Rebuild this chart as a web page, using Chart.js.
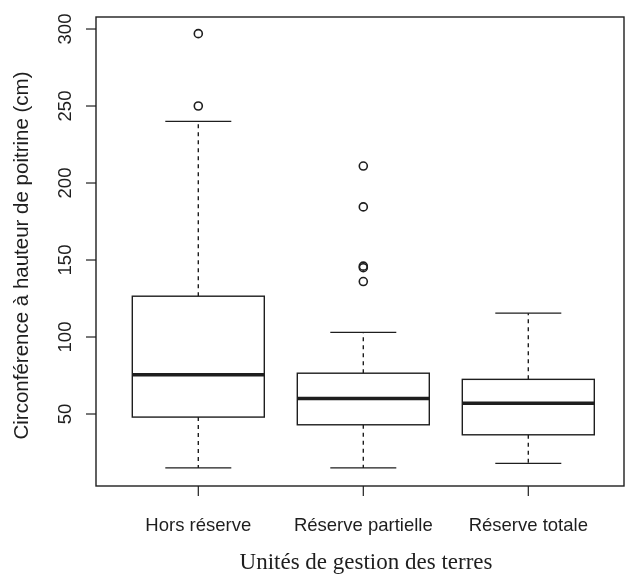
<!DOCTYPE html>
<html>
<head>
<meta charset="utf-8">
<script src="https://cdn.jsdelivr.net/npm/chart.js@4.4.1/dist/chart.umd.min.js"></script>
<style>
  html, body { margin: 0; padding: 0; background: #fff; }
</style>
</head>
<body>
<canvas id="boxChart" width="625" height="581"></canvas>
<script>
// --- data ---
const categories = ["Hors réserve", "Réserve partielle", "Réserve totale"];
const whiskerLow = [15, 15, 18];
const q1 = [48, 43, 36.5];
const median = [75.5, 60, 57];
const q3 = [126.5, 76.5, 72.5];
const whiskerHigh = [240, 103, 115.5];
const outliers = [[250, 297], [136, 145, 146, 184.5, 211], []];
const yTicks = [50, 100, 150, 200, 250, 300];

const yTitle = "Circonférence à hauteur de poitrine (cm)";
const xTitle = "Unités de gestion des terres";

const ink = "#1e1e1e";
const sans = "'Liberation Sans', Arial, sans-serif";
const serif = "'Liberation Serif', 'Times New Roman', serif";

// outlier points as a scatter dataset
const outlierPoints = [];
outliers.forEach((vals, i) => vals.forEach(v => outlierPoints.push({ x: i + 1, y: v })));

// R-style boxes, whiskers, axes and labels, drawn through the chart scales
const boxPlugin = {
    id: "rBoxplot",
    beforeDatasetsDraw(chart) {
        const { ctx, chartArea: a, scales: { x, y } } = chart;
        ctx.save();
        ctx.strokeStyle = ink;

        categories.forEach((name, i) => {
            const cx = x.getPixelForValue(i + 1);
            const bl = x.getPixelForValue(i + 1 - 0.4), br = x.getPixelForValue(i + 1 + 0.4);
            const sl = x.getPixelForValue(i + 1 - 0.2), sr = x.getPixelForValue(i + 1 + 0.2);
            const yLo = y.getPixelForValue(whiskerLow[i]), yHi = y.getPixelForValue(whiskerHigh[i]);
            const yQ1 = y.getPixelForValue(q1[i]), yQ3 = y.getPixelForValue(q3[i]);
            const yMed = y.getPixelForValue(median[i]);

            // dashed whiskers
            ctx.lineWidth = 1.4;
            ctx.setLineDash([4, 4]);
            ctx.beginPath();
            ctx.moveTo(cx, yQ3); ctx.lineTo(cx, yHi);
            ctx.moveTo(cx, yQ1); ctx.lineTo(cx, yLo);
            ctx.stroke();
            ctx.setLineDash([]);

            // staples
            ctx.lineWidth = 1.3;
            ctx.beginPath();
            ctx.moveTo(sl, yHi); ctx.lineTo(sr, yHi);
            ctx.moveTo(sl, yLo); ctx.lineTo(sr, yLo);
            ctx.stroke();

            // box
            ctx.fillStyle = "#fff";
            ctx.fillRect(bl, yQ3, br - bl, yQ1 - yQ3);
            ctx.lineWidth = 1.4;
            ctx.strokeRect(bl, yQ3, br - bl, yQ1 - yQ3);

            // median
            ctx.lineWidth = 3.5;
            ctx.beginPath();
            ctx.moveTo(bl, yMed); ctx.lineTo(br, yMed);
            ctx.stroke();
        });

        // frame
        ctx.lineWidth = 1.4;
        ctx.strokeRect(a.left, a.top, a.right - a.left, a.bottom - a.top);

        // y axis ticks + rotated labels
        ctx.fillStyle = ink;
        ctx.font = "18.5px " + sans;
        ctx.textAlign = "center";
        ctx.textBaseline = "middle";
        ctx.lineWidth = 1.2;
        yTicks.forEach(t => {
            const py = y.getPixelForValue(t);
            ctx.beginPath();
            ctx.moveTo(a.left - 10, py); ctx.lineTo(a.left, py);
            ctx.stroke();
            ctx.save();
            ctx.translate(a.left - 30, py);
            ctx.rotate(-Math.PI / 2);
            ctx.fillText(String(t), 0, 0);
            ctx.restore();
        });

        // x axis ticks + labels
        categories.forEach((name, i) => {
            const px = x.getPixelForValue(i + 1);
            ctx.beginPath();
            ctx.moveTo(px, a.bottom); ctx.lineTo(px, a.bottom + 10);
            ctx.stroke();
            ctx.fillText(name, px, a.bottom + 40);
        });

        // axis titles
        ctx.save();
        ctx.font = "20.5px " + sans;
        ctx.translate(22, (a.top + a.bottom) / 2 + 4);
        ctx.rotate(-Math.PI / 2);
        ctx.fillText(yTitle, 0, 0);
        ctx.restore();

        ctx.font = "23px " + serif;
        ctx.fillText(xTitle, (a.left + a.right) / 2 + 6, a.bottom + 77);

        ctx.restore();
    }
};

new Chart(document.getElementById("boxChart"), {
    type: "scatter",
    data: {
        datasets: [{
            label: "Valeurs extrêmes",
            data: outlierPoints,
            pointStyle: "circle",
            pointRadius: 4,
            pointHoverRadius: 4,
            borderColor: ink,
            backgroundColor: "rgba(255,255,255,0)",
            borderWidth: 1.6
        }]
    },
    options: {
        responsive: false,
        animation: false,
        devicePixelRatio: 1,
        layout: { autoPadding: false, padding: { left: 96, right: 1, top: 17, bottom: 95 } },
        plugins: { legend: { display: false }, tooltip: { enabled: false } },
        scales: {
            x: { type: "linear", display: false, min: 0.38, max: 3.58 },
            y: { type: "linear", display: false, min: 3.25, max: 307.8 }
        }
    },
    plugins: [boxPlugin]
});
</script>
</body>
</html>
